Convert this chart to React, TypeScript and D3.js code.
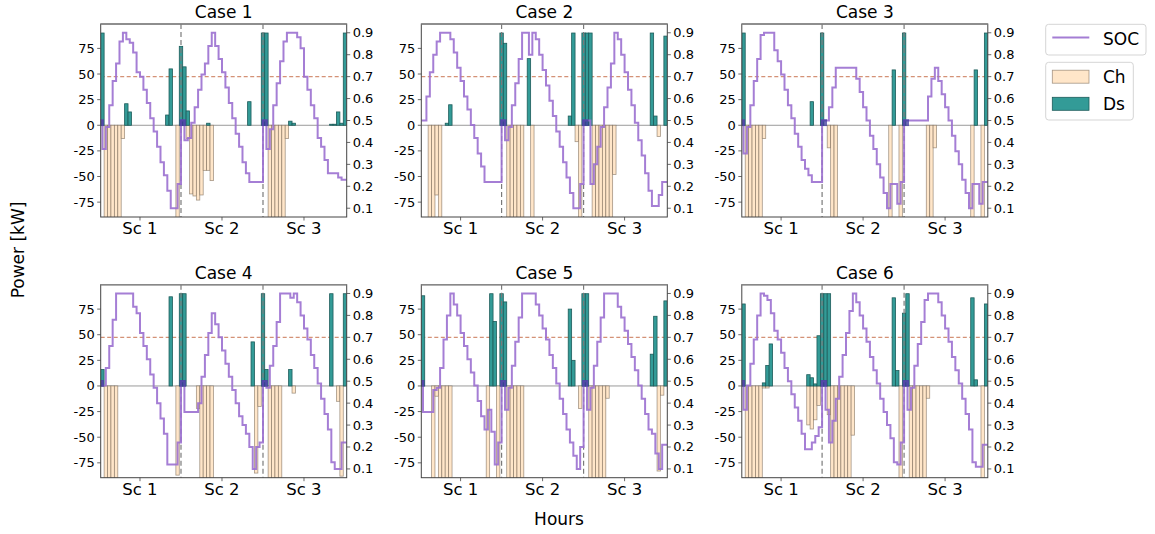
import React from "react";
import * as d3 from "d3";

// ---------- labels / ticks ----------
const caseTitles = ["Case 1", "Case 2", "Case 3", "Case 4", "Case 5", "Case 6"];
const scenarioLabels = ["Sc 1", "Sc 2", "Sc 3"];
const scenarioTickHours = [11.5, 35.5, 59.5];
const dividerHours = [23.5, 47.5];
const scenarioStarts = [0, 24, 48];
const powerTicks = [75, 50, 25, 0, -25, -50, -75];
const socTicks = [0.1, 0.2, 0.3, 0.4, 0.5, 0.6, 0.7, 0.8, 0.9];
const socLimit = 0.7;
const legendLabels = ["SOC", "Ch", "Ds"];
const xLabel = "Hours";
const yLabel = "Power [kW]";

// ---------- data (72 hours = 3 scenarios x 24 h) ----------
const ds1 = [
  90,0,0,0,0,0, 0,21,13,0,0,0, 0,0,0,0,0,0, 0,10,55,0,0,77,
  57,14,0,0,0,0, 0,2,0,0,0,0, 0,0,0,0,0,0, 0,23,0,0,0,90,
  90,0,0,0,0,0, 0,4,2,0,0,0, 0,0,0,0,0,0, 0,1,1,13,2,90,
];
const ch1 = [
  0,-90,-90,-90,-90,-90, -13,0,0,0,0,0, 0,0,0,0,0,0, 0,0,0,0,-90,0,
  0,-13,-67,-69,-73,-68, -44,-44,-54,0,0,0, 0,0,0,0,0,0, 0,0,0,0,0,0,
  0,-90,-90,-90,-90,-90, -13,0,0,0,0,0, 0,0,0,0,0,0, 0,0,0,0,0,0,
];
const soc1 = [
  0.5,0.37,0.47,0.57,0.68,0.76, 0.86,0.9,0.87,0.855,0.81,0.72, 0.7,0.64,0.58,0.51,0.45,0.38, 0.31,0.25,0.18,0.1,0.1,0.21,
  0.5,0.41,0.42,0.49,0.56,0.64, 0.71,0.76,0.84,0.9,0.84,0.78, 0.72,0.65,0.58,0.51,0.44,0.38, 0.31,0.26,0.22,0.22,0.22,0.22,
  0.5,0.37,0.46,0.57,0.67,0.77, 0.86,0.9,0.9,0.9,0.88,0.83, 0.7,0.64,0.57,0.51,0.42,0.38, 0.32,0.26,0.26,0.26,0.24,0.23,
];

const ds2 = [
  0,0,0,0,0,0, 0,2,20,0,0,0, 0,0,0,0,0,0, 0,0,0,0,0,90,
  80,0,0,0,0,0, 0,65,0,0,0,0, 0,0,0,0,0,0, 0,9,90,0,0,90,
  90,90,0,0,0,0, 0,0,0,0,0,0, 0,0,0,0,0,0, 0,90,9,0,0,87,
];
const ch2 = [
  0,0,-90,-90,-68,-90, 0,0,0,0,0,0, 0,0,0,0,0,0, 0,0,0,0,0,0,
  0,-90,-90,-90,-90,-90, 0,0,-90,0,0,0, 0,0,0,0,0,0, 0,0,0,-16,-90,0,
  0,0,-90,-90,-90,-90, -90,-90,-48,0,0,0, 0,0,0,0,0,0, 0,0,0,-11,0,0,
];
const soc2 = [
  0.5,0.5,0.61,0.72,0.8,0.86, 0.9,0.9,0.9,0.87,0.81,0.74, 0.68,0.61,0.55,0.48,0.42,0.35, 0.29,0.22,0.22,0.22,0.22,0.22,
  0.5,0.41,0.47,0.57,0.67,0.78, 0.9,0.9,0.8,0.9,0.87,0.8, 0.73,0.66,0.59,0.52,0.45,0.38, 0.31,0.24,0.17,0.1,0.1,0.21,
  0.5,0.5,0.21,0.3,0.38,0.47, 0.56,0.65,0.76,0.9,0.87,0.8, 0.72,0.64,0.57,0.49,0.41,0.34, 0.26,0.18,0.11,0.11,0.16,0.22,
];

const ds3 = [
  90,0,0,0,0,0, 0,0,0,0,0,0, 0,0,0,0,0,0, 0,0,23,0,0,90,
  0,0,0,0,0,0, 0,0,0,0,0,0, 0,0,0,0,0,0, 0,0,54,0,0,90,
  0,0,0,0,0,0, 0,0,0,0,0,0, 0,0,0,0,0,0, 0,0,54,0,0,90,
];
const ch3 = [
  0,-90,-90,-90,-90,-90, -13,0,0,0,0,0, 0,0,0,0,0,0, 0,0,0,0,0,0,
  0,-22,-90,-90,0,0, 0,0,0,0,0,0, 0,0,0,0,0,0, 0,-90,0,0,-90,0,
  0,0,0,0,0,0, -90,-90,-22,0,0,0, 0,0,0,0,0,0, 0,-90,0,0,-90,0,
];
const soc3 = [
  0.5,0.35,0.47,0.57,0.68,0.78, 0.89,0.9,0.9,0.9,0.82,0.77, 0.71,0.64,0.57,0.51,0.44,0.38, 0.32,0.28,0.25,0.22,0.22,0.22,
  0.5,0.5,0.56,0.65,0.74,0.74, 0.74,0.74,0.74,0.74,0.69,0.63, 0.56,0.5,0.43,0.37,0.3,0.24, 0.17,0.1,0.21,0.21,0.12,0.22,
  0.5,0.5,0.5,0.5,0.5,0.5, 0.5,0.61,0.69,0.74,0.68,0.62, 0.56,0.5,0.43,0.36,0.3,0.23, 0.17,0.1,0.21,0.21,0.12,0.22,
];

const ds4 = [
  16,0,0,0,0,0, 0,0,0,0,0,0, 0,0,0,0,0,0, 0,0,87,0,0,90,
  90,0,0,0,0,0, 0,0,0,0,0,0, 0,0,0,0,0,0, 0,0,43,0,0,90,
  16,0,0,0,0,0, 0,16,0,0,0,0, 0,0,0,0,0,0, 0,90,0,0,0,90,
];
const ch4 = [
  0,-90,-90,-90,-90,0, 0,0,0,0,0,0, 0,0,0,0,0,0, 0,0,0,0,-87,0,
  0,0,0,0,-22,-90, -90,-90,-90,0,0,0, 0,0,0,0,0,0, 0,0,0,-85,-20,0,
  0,-90,-90,-90,-90,0, 0,0,-7,0,0,0, 0,0,0,0,0,0, 0,0,0,-15,-88,0,
];
const soc4 = [
  0.5,0.48,0.56,0.66,0.78,0.9, 0.9,0.9,0.9,0.9,0.84,0.81, 0.72,0.66,0.6,0.53,0.47,0.4, 0.33,0.26,0.12,0.12,0.12,0.22,
  0.5,0.36,0.36,0.36,0.36,0.4, 0.52,0.62,0.72,0.81,0.76,0.7, 0.64,0.58,0.52,0.46,0.4,0.34, 0.3,0.26,0.2,0.1,0.2,0.22,
  0.5,0.47,0.57,0.66,0.77,0.9, 0.9,0.9,0.88,0.9,0.86,0.8, 0.74,0.69,0.62,0.56,0.49,0.42, 0.35,0.28,0.13,0.1,0.1,0.22,
];

const ds5 = [
  88,0,0,0,0,0, 0,0,0,0,0,0, 0,0,0,0,0,0, 0,0,90,63,0,90,
  82,0,0,0,0,0, 0,0,0,0,0,0, 0,0,0,0,0,0, 0,75,25,0,0,90,
  90,0,0,0,0,0, 0,0,0,0,0,0, 0,0,0,0,0,0, 0,31,68,0,0,83,
];
const ch5 = [
  0,0,0,-90,-10,-90, -90,-90,-90,0,0,0, 0,0,0,0,0,0, 0,-90,0,0,-90,0,
  0,-90,-90,-90,-90,-90, 0,0,0,0,0,0, 0,0,0,0,0,0, 0,0,0,0,-22,0,
  0,-90,-90,-90,-90,-90, -12,0,0,0,0,0, 0,0,0,0,0,0, 0,0,0,-83,-9,0,
];
const soc5 = [
  0.5,0.36,0.36,0.36,0.46,0.47, 0.56,0.69,0.8,0.9,0.85,0.8, 0.72,0.66,0.6,0.54,0.48,0.41, 0.34,0.28,0.37,0.27,0.12,0.22,
  0.5,0.37,0.47,0.57,0.68,0.79, 0.9,0.9,0.9,0.9,0.85,0.8, 0.74,0.69,0.62,0.56,0.49,0.42, 0.35,0.28,0.22,0.16,0.1,0.2,
  0.5,0.37,0.47,0.57,0.68,0.79, 0.9,0.9,0.9,0.9,0.84,0.79, 0.73,0.67,0.61,0.55,0.48,0.42, 0.35,0.28,0.26,0.17,0.1,0.21,
];

const ds6 = [
  80,0,0,0,0,0, 3,20,41,0,0,0, 0,0,0,0,0,0, 0,11,8,2,49,90,
  90,90,0,0,0,0, 0,0,0,0,0,0, 0,0,0,0,0,0, 0,0,86,15,0,71,
  90,0,0,0,0,0, 0,0,0,0,0,0, 0,0,0,0,0,0, 0,86,6,0,0,80,
];
const ch6 = [
  0,-90,-90,-90,-90,-90, -2,-2,0,0,0,0, 0,0,0,0,0,0, 0,-38,-42,-33,-19,0,
  0,-28,-90,-90,-90,-90, -90,-90,-48,0,0,0, 0,0,0,0,0,0, 0,0,0,0,-90,0,
  0,-90,-90,-90,-90,-90, -12,0,0,0,0,0, 0,0,0,0,0,0, 0,0,0,0,-90,0,
];
const soc6 = [
  0.5,0.37,0.48,0.58,0.69,0.8, 0.9,0.89,0.87,0.81,0.73,0.69, 0.63,0.56,0.5,0.44,0.38,0.32, 0.26,0.19,0.19,0.22,0.25,0.29,
  0.5,0.37,0.22,0.32,0.42,0.52, 0.62,0.72,0.82,0.9,0.86,0.8, 0.74,0.68,0.61,0.55,0.49,0.42, 0.36,0.3,0.24,0.13,0.12,0.22,
  0.5,0.37,0.47,0.57,0.67,0.77, 0.87,0.9,0.9,0.9,0.86,0.8, 0.74,0.68,0.61,0.55,0.49,0.42, 0.35,0.28,0.13,0.11,0.11,0.21,
];

const chSeries = [ch1, ch2, ch3, ch4, ch5, ch6];
const dsSeries = [ds1, ds2, ds3, ds4, ds5, ds6];
const socSeries = [soc1, soc2, soc3, soc4, soc5, soc6];

// ---------- styling / layout ----------
const W = 1155;
const H = 534;
const colLefts = [100.7, 421.3, 741.8];
const rowTops = [24, 284.7];
const PW = 246;
const PH = 193;
const FONT = "DejaVu Sans, Verdana, sans-serif";
const C_SOC = "#9b70d0";
const C_CH = "#ffe6c9";
const C_CH_EDGE = "#6b5a48";
const C_DS = "#339b97";
const C_DS_EDGE = "#1d5c5a";
const C_LIMIT = "#cd7f5f";
const C_AXIS = "#444";

type PanelProps = { idx: number; left: number; top: number };

function Panel({ idx, left, top }: PanelProps) {
  const ch = chSeries[idx];
  const ds = dsSeries[idx];
  const soc = socSeries[idx];
  const hours = d3.range(ch.length);
  const x = d3.scaleLinear().domain([0, 72]).range([left, left + PW]);
  const yP = d3.scaleLinear().domain([-89.5, 98.8]).range([top + PH, top]);
  const yS = d3.scaleLinear().domain([0.06, 0.94]).range([top + PH, top]);
  const clipId = `clip-${idx}`;

  const pts: [number, number][] = hours.map((h) => [Math.max(0, h - 0.5), soc[h]]);
  pts.push([72, soc[soc.length - 1]]);
  const line = d3
    .line<[number, number]>()
    .x((d) => x(d[0]))
    .y((d) => yS(d[1]))
    .curve(d3.curveStepAfter);

  const bottom = top + PH;
  const right = left + PW;
  const markerStarts = scenarioStarts.filter((s) => ds[s] > 0 || (s > 0 && ds[s - 1] > 0));

  return (
    <g>
      <defs>
        <clipPath id={clipId}>
          <rect x={left} y={top} width={PW} height={PH} />
        </clipPath>
      </defs>
      <g clipPath={`url(#${clipId})`}>
        <line x1={left} x2={right} y1={yP(0)} y2={yP(0)} stroke="#9a9a9a" strokeWidth={1} />
        <line
          x1={left}
          x2={right}
          y1={yS(socLimit)}
          y2={yS(socLimit)}
          stroke={C_LIMIT}
          strokeWidth={1.2}
          strokeDasharray="4,2.5"
          opacity={0.85}
        />
        {hours
          .filter((h) => ch[h] !== 0)
          .map((h) => (
            <rect
              key={`c${h}`}
              x={x(h)}
              y={yP(0)}
              width={x(h + 1) - x(h)}
              height={yP(ch[h]) - yP(0)}
              fill={C_CH}
              stroke={C_CH_EDGE}
              strokeOpacity={0.6}
              strokeWidth={0.8}
            />
          ))}
        {hours
          .filter((h) => ds[h] !== 0)
          .map((h) => (
            <rect
              key={`d${h}`}
              x={x(h)}
              y={yP(ds[h])}
              width={x(h + 1) - x(h)}
              height={yP(0) - yP(ds[h])}
              fill={C_DS}
              stroke={C_DS_EDGE}
              strokeWidth={0.8}
            />
          ))}
        {dividerHours.map((d) => (
          <line
            key={`v${d}`}
            x1={x(d)}
            x2={x(d)}
            y1={top}
            y2={bottom}
            stroke="#7a7a7a"
            strokeWidth={1.2}
            strokeDasharray="5,3"
          />
        ))}
        <path d={line(pts) || ""} fill="none" stroke={C_SOC} strokeWidth={2} opacity={0.9} />
        {markerStarts.map((s) => (
          <rect
            key={`m${s}`}
            x={x(s) - 3.2}
            y={yS(0.5) - 1.2}
            width={6.4}
            height={yP(0) - yS(0.5) + 2}
            fill="#3f3a9e"
            opacity={0.75}
          />
        ))}
      </g>
      <rect x={left} y={top} width={PW} height={PH} fill="none" stroke={C_AXIS} strokeWidth={1} />
      <line x1={left} x2={right} y1={top} y2={top} stroke="#888" strokeWidth={1.6} />
      {powerTicks.map((t) => (
        <g key={`p${t}`}>
          <line x1={left - 3.5} x2={left} y1={yP(t)} y2={yP(t)} stroke={C_AXIS} strokeWidth={0.8} />
          <text
            x={left - 6}
            y={yP(t)}
            textAnchor="end"
            dominantBaseline="central"
            fontSize={13}
            fill="#000"
          >
            {t}
          </text>
        </g>
      ))}
      {socTicks.map((t) => (
        <g key={`s${t}`}>
          <line x1={right} x2={right + 3.5} y1={yS(t)} y2={yS(t)} stroke={C_AXIS} strokeWidth={0.8} />
          <text
            x={right + 6}
            y={yS(t)}
            textAnchor="start"
            dominantBaseline="central"
            fontSize={13}
            fill="#000"
          >
            {t.toFixed(1)}
          </text>
        </g>
      ))}
      {scenarioTickHours.map((t, i) => (
        <g key={`x${t}`}>
          <line x1={x(t)} x2={x(t)} y1={bottom} y2={bottom + 3.5} stroke={C_AXIS} strokeWidth={0.8} />
          <text x={x(t)} y={bottom + 17} textAnchor="middle" fontSize={16.5} fill="#000">
            {scenarioLabels[i]}
          </text>
        </g>
      ))}
      <text x={(left + right) / 2} y={top - 6} textAnchor="middle" fontSize={17} fill="#000">
        {caseTitles[idx]}
      </text>
    </g>
  );
}

function Legend() {
  return (
    <g fontSize={17}>
      <rect x={1045.7} y={24.3} width={100.3} height={30.7} rx={3} fill="#fff" stroke="#d5d5d5" />
      <line x1={1052.3} x2={1089.3} y1={37.5} y2={37.5} stroke={C_SOC} strokeWidth={2} opacity={0.9} />
      <text x={1103} y={38.5} dominantBaseline="central">
        {legendLabels[0]}
      </text>
      <rect x={1045.7} y={62.3} width={87.6} height={57.7} rx={3} fill="#fff" stroke="#d5d5d5" />
      <rect x={1052.3} y={70.2} width={36.7} height={13} fill={C_CH} stroke={C_CH_EDGE} strokeOpacity={0.6} strokeWidth={0.8} />
      <text x={1103} y={77} dominantBaseline="central">
        {legendLabels[1]}
      </text>
      <rect x={1052.3} y={97.3} width={36.7} height={13} fill={C_DS} stroke={C_DS_EDGE} strokeWidth={0.8} />
      <text x={1103} y={104} dominantBaseline="central">
        {legendLabels[2]}
      </text>
    </g>
  );
}

export default function App() {
  return (
    <svg
      width={W}
      height={H}
      viewBox={`0 0 ${W} ${H}`}
      style={{ position: "absolute", left: 0, top: 0, background: "#fff" }}
      fontFamily={FONT}
    >
      <rect x={0} y={0} width={W} height={H} fill="#fff" />
      {caseTitles.map((_, i) => (
        <Panel key={i} idx={i} left={colLefts[i % 3]} top={rowTops[Math.floor(i / 3)]} />
      ))}
      <Legend />
      <text x={559} y={525} textAnchor="middle" fontSize={17}>
        {xLabel}
      </text>
      <text transform="translate(24,250) rotate(-90)" textAnchor="middle" fontSize={17}>
        {yLabel}
      </text>
    </svg>
  );
}
